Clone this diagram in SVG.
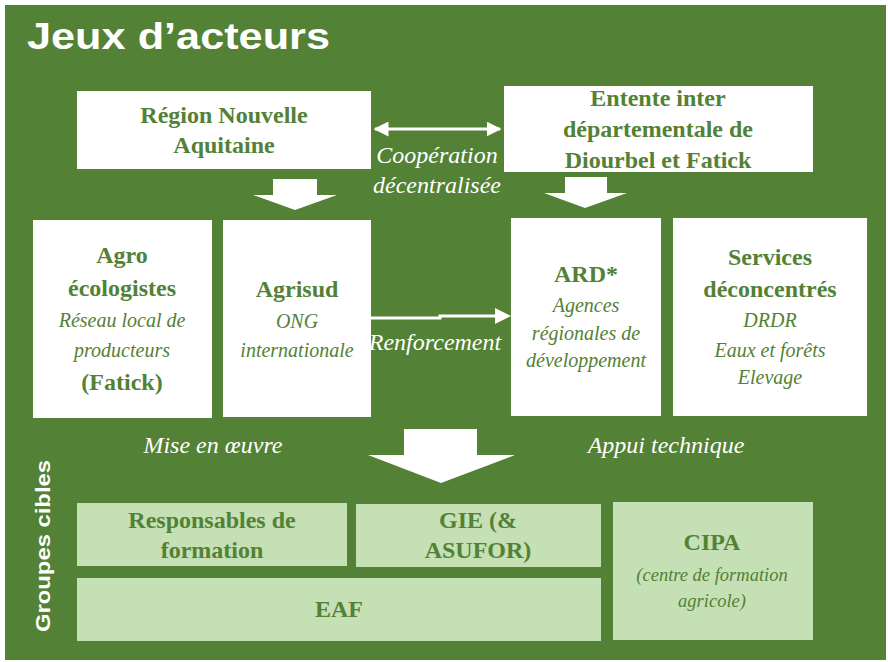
<svg xmlns="http://www.w3.org/2000/svg" width="888" height="662" viewBox="0 0 888 662">
<defs>
<marker id="ah" viewBox="0 0 10 10" refX="9" refY="5" markerWidth="5" markerHeight="5" orient="auto-start-reverse" markerUnits="strokeWidth">
<path d="M0,0 L10,5 L0,10 z" fill="#ffffff"/>
</marker>
</defs>
<rect x="0" y="0" width="888" height="662" fill="#ffffff"/>
<rect x="5" y="5" width="881" height="655" fill="#538135"/>

<g id="region">
<rect fill="#ffffff" x="77" y="91" width="294" height="78"/>
<text font-family="Liberation Serif" font-weight="bold" font-size="24" fill="#538135" text-anchor="middle" x="224" y="123">Région Nouvelle</text>
<text font-family="Liberation Serif" font-weight="bold" font-size="24" fill="#538135" text-anchor="middle" x="224" y="153">Aquitaine</text>
</g>
<g id="entente">
<rect fill="#ffffff" x="504" y="86" width="309" height="86"/>
<text font-family="Liberation Serif" font-weight="bold" font-size="24" fill="#538135" text-anchor="middle" x="658" y="106">Entente inter</text>
<text font-family="Liberation Serif" font-weight="bold" font-size="24" fill="#538135" text-anchor="middle" x="658" y="137">départementale de</text>
<text font-family="Liberation Serif" font-weight="bold" font-size="24" fill="#538135" text-anchor="middle" x="658" y="168">Diourbel et Fatick</text>
</g>
<g id="agro">
<rect fill="#ffffff" x="33" y="220" width="179" height="198"/>
<text font-family="Liberation Serif" font-weight="bold" font-size="24" fill="#538135" text-anchor="middle" x="122" y="263">Agro</text>
<text font-family="Liberation Serif" font-weight="bold" font-size="24" fill="#538135" text-anchor="middle" x="122" y="296">écologistes</text>
<text font-family="Liberation Serif" font-style="italic" font-size="20" fill="#538135" text-anchor="middle" x="122" y="327">Réseau local de</text>
<text font-family="Liberation Serif" font-style="italic" font-size="20" fill="#538135" text-anchor="middle" x="122" y="357">producteurs</text>
<text font-family="Liberation Serif" font-weight="bold" font-size="24" fill="#538135" text-anchor="middle" x="122" y="390">(Fatick)</text>
</g>
<g id="agrisud">
<rect fill="#ffffff" x="223" y="220" width="148" height="197"/>
<text font-family="Liberation Serif" font-weight="bold" font-size="24" fill="#538135" text-anchor="middle" x="297" y="297">Agrisud</text>
<text font-family="Liberation Serif" font-style="italic" font-size="20" fill="#538135" text-anchor="middle" x="297" y="328">ONG</text>
<text font-family="Liberation Serif" font-style="italic" font-size="20" fill="#538135" text-anchor="middle" x="297" y="357">internationale</text>
</g>
<g id="ard">
<rect fill="#ffffff" x="511" y="218" width="150" height="198"/>
<text font-family="Liberation Serif" font-weight="bold" font-size="24" fill="#538135" text-anchor="middle" x="586" y="282">ARD*</text>
<text font-family="Liberation Serif" font-style="italic" font-size="20" fill="#538135" text-anchor="middle" x="586" y="312">Agences</text>
<text font-family="Liberation Serif" font-style="italic" font-size="20" fill="#538135" text-anchor="middle" x="586" y="340">régionales de</text>
<text font-family="Liberation Serif" font-style="italic" font-size="20" fill="#538135" text-anchor="middle" x="586" y="367">développement</text>
</g>
<g id="services">
<rect fill="#ffffff" x="673" y="218" width="194" height="198"/>
<text font-family="Liberation Serif" font-weight="bold" font-size="24" fill="#538135" text-anchor="middle" x="770" y="265">Services</text>
<text font-family="Liberation Serif" font-weight="bold" font-size="24" fill="#538135" text-anchor="middle" x="770" y="297">déconcentrés</text>
<text font-family="Liberation Serif" font-style="italic" font-size="20" fill="#538135" text-anchor="middle" x="770" y="327">DRDR</text>
<text font-family="Liberation Serif" font-style="italic" font-size="20" fill="#538135" text-anchor="middle" x="770" y="357">Eaux et forêts</text>
<text font-family="Liberation Serif" font-style="italic" font-size="20" fill="#538135" text-anchor="middle" x="770" y="384">Elevage</text>
</g>
<g id="responsables">
<rect fill="#c5e0b4" x="77" y="503" width="270" height="63"/>
<text font-family="Liberation Serif" font-weight="bold" font-size="24" fill="#538135" text-anchor="middle" x="212" y="528">Responsables de</text>
<text font-family="Liberation Serif" font-weight="bold" font-size="24" fill="#538135" text-anchor="middle" x="212" y="558">formation</text>
</g>
<g id="gie">
<rect fill="#c5e0b4" x="356" y="504" width="245" height="63"/>
<text font-family="Liberation Serif" font-weight="bold" font-size="24" fill="#538135" text-anchor="middle" x="478" y="528">GIE (&amp;</text>
<text font-family="Liberation Serif" font-weight="bold" font-size="24" fill="#538135" text-anchor="middle" x="478" y="558">ASUFOR)</text>
</g>
<g id="eaf">
<rect fill="#c5e0b4" x="77" y="578" width="524" height="63"/>
<text font-family="Liberation Serif" font-weight="bold" font-size="24" fill="#538135" text-anchor="middle" x="339" y="617">EAF</text>
</g>
<g id="cipa">
<rect fill="#c5e0b4" x="613" y="502" width="200" height="138"/>
<text font-family="Liberation Serif" font-weight="bold" font-size="24" fill="#538135" text-anchor="middle" x="712" y="550">CIPA</text>
<text font-family="Liberation Serif" font-style="italic" font-size="18.5" fill="#538135" text-anchor="middle" x="712" y="581">(centre de formation</text>
<text font-family="Liberation Serif" font-style="italic" font-size="18.5" fill="#538135" text-anchor="middle" x="712" y="607">agricole)</text>
</g>

<g id="connectors">
<line x1="375" y1="129" x2="500" y2="129" stroke="#ffffff" stroke-width="3" marker-start="url(#ah)" marker-end="url(#ah)"/>
<polygon fill="#ffffff" points="273,179 317,179 317,195 337,195 295,210 253,195 273,195"/>
<polygon fill="#ffffff" points="565,177 607,177 607,193 627,193 585,208 544,193 565,193"/>
<polyline points="371,318 440,318 440,316 497,316" fill="none" stroke="#ffffff" stroke-width="3"/>
<polygon fill="#ffffff" points="495,308 511,316 495,324"/>
<polygon fill="#ffffff" points="404,429 477,429 477,455 515,455 441,483 368,455 404,455"/>
<text font-family="Liberation Serif" font-style="italic" font-size="24" fill="#ffffff" text-anchor="middle" x="437" y="163">Coopération</text>
<text font-family="Liberation Serif" font-style="italic" font-size="24" fill="#ffffff" text-anchor="middle" x="437" y="193">décentralisée</text>
<text font-family="Liberation Serif" font-style="italic" font-size="24" fill="#ffffff" text-anchor="middle" x="435" y="350">Renforcement</text>
<text font-family="Liberation Serif" font-style="italic" font-size="24" fill="#ffffff" text-anchor="middle" x="213" y="453">Mise en œuvre</text>
<text font-family="Liberation Serif" font-style="italic" font-size="24" fill="#ffffff" text-anchor="middle" x="666" y="453">Appui technique</text>
</g>

<text font-family="Liberation Sans" font-weight="bold" fill="#ffffff" x="27" y="49" font-size="37" textLength="303" lengthAdjust="spacingAndGlyphs">Jeux d’acteurs</text>
<text font-family="Liberation Sans" font-weight="bold" fill="#ffffff" transform="translate(50,546) rotate(-90)" font-size="21" text-anchor="middle" textLength="172" lengthAdjust="spacingAndGlyphs">Groupes cibles</text>
</svg>
